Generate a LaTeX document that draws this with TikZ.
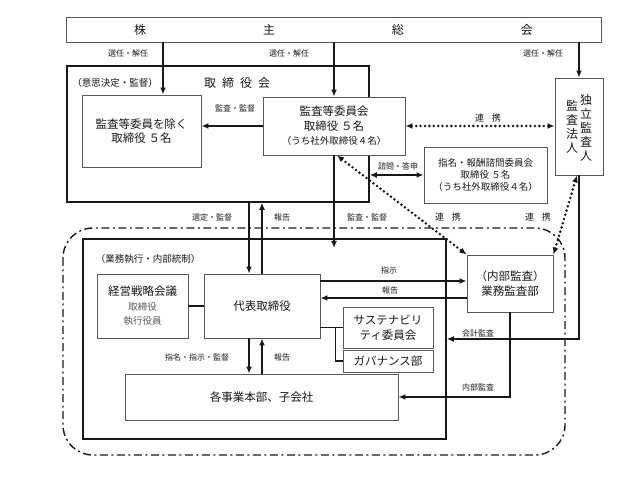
\documentclass[tikz,border=0pt]{standalone}
\usepackage{fontspec}
\setmainfont{Noto Sans CJK JP}
\usetikzlibrary{arrows.meta, positioning, calc}
\definecolor{mainBlack}{gray}{0.1}
\definecolor{subGray}{gray}{0.35}
\newcommand{\boxsmall}{\fontsize{9.5}{11.5}\selectfont}

\begin{document}
\begin{tikzpicture}[x=1pt, y=-1pt,
    box/.style={draw=subGray, line width=0.9pt, fill=white, inner sep=1pt, align=center,
        text=mainBlack, font=\fontsize{11.5}{14.5}\selectfont},
    frame/.style={draw=mainBlack, line width=1.6pt},
    arr/.style={-{Latex[length=7pt,width=6pt]}, line width=1.8pt, mainBlack},
    biarr/.style={{Latex[length=7pt,width=6pt]}-{Latex[length=7pt,width=6pt]}, line width=1.8pt, mainBlack},
    dots/.style={{Latex[length=7pt,width=6pt]}-{Latex[length=7pt,width=6pt]}, line width=2.8pt,
        mainBlack, line cap=round, dash pattern=on 0pt off 4.4pt},
    link/.style={line width=1.8pt, mainBlack},
    lbl/.style={inner sep=1pt, text=mainBlack, font=\fontsize{8}{9}\selectfont},
    vtext/.style={inner sep=0pt, align=center, text=mainBlack, font=\fontsize{12}{14}\selectfont}]
    \useasboundingbox (0,0) rectangle (627,489);

    % columns and rows
    \coordinate (colA) at (163,0);
    \coordinate (colB) at (249,0);
    \coordinate (rowA) at (0,281);
    \coordinate (rowB) at (0,298);
    \coordinate (auditEnd) at (334,248);

    % frames
    \draw[line width=1.4pt, mainBlack, dash pattern=on 8pt off 3.5pt on 2pt off 3.5pt, rounded corners=30pt]
        (63,228) rectangle (565,455);
    \node[frame, minimum width=302pt, minimum height=136pt] (board) at (218,134) {};
    \node[frame, minimum width=363pt, minimum height=200pt] (exec) at (264.5,339) {};

    % boxes
    \node[box, minimum width=535pt, minimum height=25pt, font=\fontsize{12}{14}\selectfont] (gsm) at (333.5,29.5)
        {株\hspace{117pt}主\hspace{117pt}総\hspace{117pt}会};
    \node[box, minimum width=119pt, minimum height=72pt] (dirs) at (141.5,131)
        {監査等委員を除く\\取締役\ ５名};
    \node[box, minimum width=142pt, minimum height=58pt] (audit) at (334,126)
        {監査等委員会\\取締役\ ５名\\{\boxsmall （うち社外取締役４名）}};
    \node[box, minimum width=48pt, minimum height=97pt] (auditor) at (579,126.5) {};
    \node[vtext] (auditorR) at (586,128) {独\\立\\監\\査\\人};
    \node[vtext] (auditorL) at (572,127) {監\\査\\法\\人};
    \node[box, minimum width=123pt, minimum height=56pt, font=\fontsize{9.5}{12}\selectfont] (nom) at (485.5,175)
        {指名・報酬諮問委員会\\取締役\ ５名\\（うち社外取締役４名）};
    \node[box, minimum width=91pt, minimum height=64pt] (strat) at (142.5,306)
        {経営戦略会議\\{\boxsmall\color{subGray}取締役}\\{\boxsmall\color{subGray}執行役員}};
    \node[box, minimum width=116pt, minimum height=64pt] (rep) at (262,306) {代表取締役};
    \node[box, minimum width=273pt, minimum height=46pt] (biz) at (261.5,397) {各事業本部、子会社};
    \node[box, minimum width=86pt, minimum height=57pt] (ia) at (510,283.5) {（内部監査）\\業務監査部};
    \node[box, minimum width=90pt, minimum height=41pt] (sus) at (388,327.5) {サステナビリ\\ティ委員会};
    \node[box, minimum width=90pt, minimum height=22pt] (gov) at (388,361) {ガバナンス部};

    % titles
    \node[vtext, font=\fontsize{12}{14}\selectfont] (boardTitle) at (237,83)
        {取\hspace{6pt}締\hspace{6pt}役\hspace{6pt}会};
    \node[lbl, font=\fontsize{9.5}{11}\selectfont] (boardNote) at (115,83) {（意思決定・監督）};
    \node[lbl, font=\fontsize{9.5}{11}\selectfont] (execNote) at (148,259) {（業務執行・内部統制）};

    % connectors
    \draw[arr] (gsm.south -| colA) -- (dirs.north -| colA);
    \draw[arr] (gsm.south -| audit) -- (audit.north);
    \draw[arr] (gsm.south -| auditor) -- (auditor.north);
    \draw[arr] (audit.west) -- (audit.west -| dirs.east);
    \draw[dots] (audit.east) -- (audit.east -| auditor.west);
    \draw[biarr] (nom.west -| board.east) -- (nom.west);
    \draw[arr] (board.south -| colB) -- (rep.north -| colB);
    \draw[arr] (rep.north) -- (board.south -| rep.north);
    \draw[arr] (audit.south) -- (auditEnd);
    \draw[dots] ([xshift=3pt]audit.south) -- (ia.north west);
    \draw[dots] (ia.north east) -- ([xshift=-2pt]auditor.south);
    \draw[link] (strat.east) -- (rep.west);
    \draw[arr] (rep.east |- rowA) -- (ia.west |- rowA);
    \draw[arr] (ia.west |- rowB) -- (rep.east |- rowB);
    \draw[link] (sus.west -| rep.east) -- (sus.west);
    \draw[link] ([xshift=-7pt]sus.west) |- (gov.west);
    \draw[arr] (rep.south -| colB) -- (biz.north -| colB);
    \draw[arr] (biz.north -| rep.south) -- (rep.south);
    \draw[arr] (auditor.south) |- (exec.east);
    \draw[arr] (ia.south) |- (biz.east);

    % labels
    \node[lbl] (selA) at (128,53) {選任・解任};
    \node[lbl] (selB) at (289,53) {選任・解任};
    \node[lbl] (selC) at (543,53) {選任・解任};
    \node[lbl] (audDir) at (235,108) {監査・監督};
    \node[lbl, font=\fontsize{9}{10}\selectfont] (coopA) at (488,118) {連\hspace{8pt}携};
    \node[lbl] (consult) at (398,166) {諮問・答申};
    \node[lbl] (appoint) at (212,217) {選定・監督};
    \node[lbl] (repUp) at (282,217) {報告};
    \node[lbl] (audExec) at (367,217) {監査・監督};
    \node[lbl, font=\fontsize{9}{10}\selectfont] (coopB) at (448,217) {連\hspace{8pt}携};
    \node[lbl, font=\fontsize{9}{10}\selectfont] (coopC) at (538,217) {連\hspace{8pt}携};
    \node[lbl] (instr) at (389,270) {指示};
    \node[lbl] (iaRep) at (390,290) {報告};
    \node[lbl] (nomBiz) at (197,357) {指名・指示・監督};
    \node[lbl] (bizRep) at (282,357) {報告};
    \node[lbl] (acct) at (478,333) {会計監査};
    \node[lbl] (intAud) at (478,387) {内部監査};
\end{tikzpicture}
\end{document}
